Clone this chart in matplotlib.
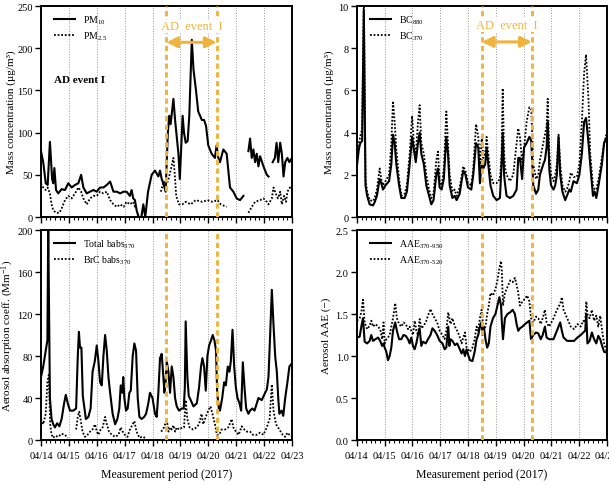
import numpy as np
import matplotlib
matplotlib.use('Agg')
import matplotlib.pyplot as plt
from matplotlib.ticker import MultipleLocator, FormatStrFormatter

nan = np.nan

# x axis: days since 04/14 00:00
day_labels = ['04/14', '04/15', '04/16', '04/17', '04/18', '04/19', '04/20', '04/21', '04/22', '04/23']
event_start = 4.5
event_end = 6.3

# PM10 / PM2.5 (ug/m3)
pm10_t = [0, 0.08, 0.17, 0.24, 0.32, 0.4, 0.44, 0.48, 0.54, 0.62,
          0.74, 0.86, 0.98, 1.1, 1.22, 1.34, 1.44, 1.52, 1.64, 1.76,
          1.88, 2.0, 2.12, 2.24, 2.36, 2.48, 2.6, 2.72, 2.84, 2.96,
          3.07, 3.19, 3.25, 3.31, 3.37, 3.43, 3.5, 3.6, 3.67, 3.74,
          3.84, 3.97, 4.09, 4.21, 4.27, 4.33, 4.39, 4.47, 4.55, 4.6,
          4.65, 4.75, 4.81, 4.87, 4.93, 4.98, 5.08, 5.13, 5.19, 5.26,
          5.32, 5.41, 5.47, 5.56, 5.64, 5.77, 5.85, 5.92, 6.0, 6.12,
          6.24, 6.3, 6.36, 6.42, 6.54, 6.66, 6.72, 6.78, 6.9, 7.02,
          7.14, 7.26, 7.35, 7.44, 7.5, 7.56, 7.62, 7.68, 7.74, 7.8,
          7.86, 7.98, 8.1, 8.16, 8.23, 8.31, 8.39, 8.45, 8.51, 8.58,
          8.64, 8.7, 8.76, 8.84, 8.91, 9.0]
pm10 = [78, 65, 40, 38, 89, 45, 40, 58, 32, 28,
        33, 32, 40, 35, 38, 40, 50, 35, 28, 30,
        32, 30, 35, 35, 38, 42, 30, 30, 28, 30,
        30, 25, 32, 22, 20, 8, 0, 0, 15, 0,
        30, 50, 55, 48, 55, 45, 40, 30, 100, 120,
        110, 140, 115, 95, 75, 45, 120, 100, 88, 90,
        120, 210, 175, 150, 125, 115, 115, 108, 85, 75,
        70, 85, 70, 65, 80, 75, 55, 35, 30, 22,
        20, 25, nan, 78, 93, 70, 80, 65, 75, 60,
        72, 60, 50, 48, nan, 65, 70, 88, 65, 88,
        75, 48, 65, 70, 65, 70]

pm25_t = [0, 0.08, 0.17, 0.24, 0.32, 0.38, 0.44, 0.54, 0.66, 0.74,
          0.86, 0.98, 1.1, 1.22, 1.34, 1.44, 1.52, 1.64, 1.76, 1.88,
          2.0, 2.12, 2.24, 2.36, 2.48, 2.6, 2.72, 2.84, 2.96, 3.07,
          3.19, 3.31, 3.37, 3.43, 3.46, 4.3, 4.4, 4.47, 4.55, 4.65,
          4.75, 4.8, 4.85, 4.95, 5.07, 5.19, 5.37, 5.55, 5.79, 5.97,
          6.15, 6.33, 6.45, 6.66, 6.7, 7.44, 7.56, 7.68, 7.86, 7.98,
          8.1, 8.16, 8.28, 8.34, 8.42, 8.5, 8.58, 8.64, 8.72, 8.79,
          8.84, 8.93, 9.0]
pm25 = [40, 35, 32, 35, 28, 15, 8, 5, 5, 10,
        20, 25, 22, 28, 35, 30, 22, 15, 22, 25,
        25, 30, 28, 30, 20, 15, 12, 15, 12, 18,
        15, 18, 12, 10, nan, 30, 42, 40, 42, 55,
        70, 50, 25, 15, 15, 18, 15, 20, 18, 20,
        18, 20, 15, 12, nan, 5, 12, 18, 20, 22,
        18, 15, 22, 35, 28, 22, 30, 15, 25, 18,
        30, 35, 33]

# BC (ug/m3)
bc_t = [0, 0.07, 0.12, 0.19, 0.25, 0.31, 0.37, 0.46, 0.58, 0.64,
        0.72, 0.82, 0.88, 0.94, 1.03, 1.16, 1.24, 1.3, 1.36, 1.42,
        1.52, 1.6, 1.72, 1.8, 1.9, 1.99, 2.05, 2.12, 2.2, 2.26,
        2.32, 2.41, 2.5, 2.6, 2.68, 2.76, 2.86, 2.92, 2.98, 3.05,
        3.13, 3.22, 3.28, 3.34, 3.44, 3.52, 3.59, 3.7, 3.83, 3.91,
        4.0, 4.12, 4.19, 4.29, 4.37, 4.43, 4.5, 4.55, 4.62, 4.67,
        4.73, 4.81, 4.91, 5.03, 5.15, 5.21, 5.25, 5.3, 5.34, 5.39,
        5.51, 5.63, 5.75, 5.81, 5.87, 5.95, 6.02, 6.11, 6.21, 6.28,
        6.35, 6.45, 6.53, 6.59, 6.71, 6.77, 6.83, 6.87, 6.93, 6.99,
        7.08, 7.14, 7.2, 7.26, 7.32, 7.4, 7.5, 7.56, 7.65, 7.7,
        7.8, 7.92, 8.01, 8.1, 8.18, 8.25, 8.34, 8.4, 8.5, 8.56,
        8.62, 8.7, 8.82, 8.9, 9.0]
bc880 = [2.4, 3.2, 3.5, 3.6, 9.8, 1.5, 1.0, 0.6, 0.55, 0.7,
         1.0, 1.8, 1.6, 1.3, 1.5, 1.7, 2.5, 3.9, 3.5, 2.5,
         1.5, 0.9, 0.9, 1.2, 2.5, 3.8, 3.2, 2.6, 3.5, 4.0,
         3.0, 2.5, 1.5, 1.0, 0.6, 0.8, 2.0, 2.3, 1.4, 1.3,
         1.8, 3.8, 3.0, 1.5, 0.9, 1.0, 0.8, 1.1, 2.2, 2.0,
         1.4, 1.3, 2.0, 3.5, 3.3, 1.6, 2.7, 2.3, 2.5, 3.3,
         2.5, 1.5, 1.0, 0.8, 0.9, 2.5, 4.0, 2.0, 1.5, 1.0,
         0.9, 1.0, 1.3, 2.8, 2.8, 1.8, 3.3, 3.5, 3.8, 3.6,
         1.5, 1.1, 1.3, 2.0, 2.5, 2.7, 3.3, 4.5, 2.2, 1.5,
         1.3, 1.5, 2.0, 3.8, 2.0, 1.2, 0.8, 1.0, 1.3, 1.2,
         1.7, 1.6, 2.0, 3.0, 4.5, 4.7, 3.5, 2.5, 1.0, 1.2,
         0.9, 1.5, 2.5, 3.5, 3.8]
bc370 = [3.0, 3.5, 3.8, 4.2, 10.5, 1.8, 1.2, 0.8, 0.75, 0.9,
         1.3, 2.3, 1.8, 1.5, 1.7, 2.0, 3.5, 5.5, 4.5, 3.2,
         1.8, 1.0, 1.1, 1.5, 3.0, 4.8, 3.5, 2.9, 4.5, 5.3,
         3.5, 3.0, 2.0, 1.3, 0.9, 1.1, 2.7, 3.1, 1.7, 1.5,
         2.3, 5.0, 3.5, 2.0, 1.2, 1.3, 1.0, 1.4, 2.4, 2.2,
         1.6, 1.5, 2.3, 4.4, 3.8, 2.5, 3.8, 2.8, 3.0, 3.8,
         3.0, 2.0, 1.6, 1.6, 1.8, 3.0, 6.1, 3.0, 2.3, 2.0,
         1.7, 2.0, 3.5, 4.2, 3.8, 2.6, 3.3, 4.5, 5.2, 5.1,
         2.5, 1.8, 2.0, 2.7, 3.5, 3.9, 4.3, 5.6, 3.0, 2.0,
         1.7, 2.0, 2.5, 3.9, 2.5, 1.5, 1.2, 1.3, 1.7, 2.1,
         1.9, 1.9, 2.5, 4.5, 6.8, 7.7, 5.5, 3.0, 1.5, 1.3,
         1.3, 1.8, 2.8, 3.5, 4.0]

# absorption coefficient at 370 nm (Mm-1)
babs_t = [0, 0.08, 0.17, 0.23, 0.26, 0.32, 0.38, 0.44, 0.5, 0.58,
          0.66, 0.74, 0.83, 0.89, 0.96, 1.04, 1.16, 1.26, 1.32, 1.36,
          1.4, 1.45, 1.5, 1.56, 1.61, 1.7, 1.78, 1.85, 1.93, 2.0,
          2.06, 2.12, 2.18, 2.24, 2.3, 2.36, 2.42, 2.48, 2.57, 2.66,
          2.74, 2.81, 2.86, 2.92, 2.95, 2.99, 3.05, 3.11, 3.17, 3.22,
          3.29, 3.35, 3.41, 3.47, 3.53, 3.61, 3.7, 3.77, 3.85, 3.91,
          4.0, 4.09, 4.15, 4.21, 4.27, 4.33, 4.39, 4.43, 4.47, 4.51,
          4.57, 4.63, 4.69, 4.75, 4.81, 4.87, 4.95, 5.05, 5.12, 5.16,
          5.19, 5.25, 5.3, 5.37, 5.47, 5.59, 5.67, 5.74, 5.79, 5.85,
          5.91, 5.97, 6.03, 6.1, 6.16, 6.22, 6.28, 6.32, 6.38, 6.42,
          6.5, 6.57, 6.63, 6.7, 6.76, 6.81, 6.87, 6.93, 6.99, 7.05,
          7.12, 7.18, 7.24, 7.3, 7.36, 7.44, 7.5, 7.58, 7.66, 7.74,
          7.8, 7.92, 8.04, 8.1, 8.16, 8.22, 8.28, 8.34, 8.4, 8.46,
          8.51, 8.55, 8.63, 8.69, 8.76, 8.84, 8.91, 9.0]
babs_total = [60, 70, 85, 95, 205, 40, 20, 15, 12, 16,
              13, 20, 35, 43, 35, 28, 28, 30, 80, 103,
              88, 88, 42, 30, 20, 22, 30, 65, 75, 90,
              75, 55, 52, 80, 100, 85, 60, 45, 25, 15,
              20, 30, 52, 45, 60, 40, 28, 30, 45, 47,
              80, 92, 85, 40, 22, 20, 22, 25, 35, 45,
              40, 25, 22, 45, 78, 82, 60, 45, 55, 75,
              65, 45, 70, 60, 40, 32, 28, 30, 30, 50,
              113, 60, 42, 38, 32, 35, 50, 70, 78, 70,
              47, 80, 90, 95, 100, 95, 85, 45, 30, 28,
              40, 55, 52, 70, 65, 75, 105, 70, 50, 40,
              35, 28, 74, 50, 30, 25, 28, 30, 28, 35,
              40, 38, 45, 48, 60, 100, 143, 110, 80, 65,
              40, 25, 28, 23, 40, 55, 70, 73]

brc_t = [0, 0.08, 0.17, 0.23, 0.28, 0.33, 0.38, 0.44, 0.5, 0.62,
         0.74, 0.86, 0.96, 1.0, 1.26, 1.32, 1.37, 1.43, 1.49, 1.58,
         1.67, 1.76, 1.85, 1.94, 2.0, 2.06, 2.14, 2.21, 2.3, 2.36,
         2.44, 2.54, 2.66, 2.78, 2.86, 2.93, 3.01, 3.1, 3.19, 3.29,
         3.35, 3.41, 3.47, 3.55, 3.61, 3.67, 3.73, 3.76, 4.31, 4.37,
         4.41, 4.45, 4.51, 4.57, 4.63, 4.69, 4.75, 4.81, 4.87, 4.95,
         5.07, 5.13, 5.19, 5.25, 5.33, 5.45, 5.58, 5.67, 5.76, 5.82,
         5.91, 6.0, 6.08, 6.15, 6.24, 6.31, 6.39, 6.48, 6.6, 6.72,
         6.84, 6.9, 6.99, 7.09, 7.2, 7.29, 7.38, 7.5, 7.6, 7.74,
         7.86, 7.98, 8.1, 8.2, 8.28, 8.34, 8.43, 8.55, 8.67, 8.76,
         8.84, 8.91, 9.0]
babs_brc = [20, 15, 25, 55, 62, 15, 5, 2, 4, 3,
            6, 5, 2, nan, 10, 22, 27, 18, 8, 3,
            5, 8, 10, 15, 8, 5, 10, 12, 22, 15,
            8, 5, 3, 5, 12, 8, 5, 3, 10, 15,
            18, 10, 5, 2, 3, 3, 2, nan, 8, 10,
            12, 15, 20, 8, 12, 10, 14, 8, 12, 10,
            12, 12, 38, 20, 12, 10, 12, 15, 25, 15,
            22, 28, 32, 25, 15, 5, 5, 10, 10, 12,
            20, 12, 8, 5, 13, 10, 8, 8, 5, 5,
            7, 5, 12, 20, 53, 28, 15, 10, 5, 3,
            7, 5, 3]

# absorption Angstrom exponent
aae_t = [0, 0.1, 0.16, 0.22, 0.28, 0.37, 0.46, 0.52, 0.58, 0.67,
         0.76, 0.84, 0.91, 0.96, 1.0, 1.06, 1.12, 1.18, 1.24, 1.3,
         1.38, 1.44, 1.52, 1.6, 1.68, 1.76, 1.84, 1.9, 1.96, 2.02,
         2.08, 2.14, 2.2, 2.26, 2.32, 2.38, 2.48, 2.56, 2.65, 2.72,
         2.8, 2.89, 2.98, 3.08, 3.16, 3.22, 3.29, 3.33, 3.37, 3.44,
         3.53, 3.61, 3.68, 3.77, 3.83, 3.89, 3.95, 4.0, 4.07, 4.16,
         4.24, 4.31, 4.37, 4.43, 4.49, 4.52, 4.57, 4.63, 4.69, 4.75,
         4.81, 4.9, 4.99, 5.06, 5.13, 5.19, 5.22, 5.26, 5.33, 5.42,
         5.52, 5.61, 5.69, 5.75, 5.81, 5.87, 5.96, 6.05, 6.13, 6.21,
         6.27, 6.35, 6.45, 6.53, 6.62, 6.69, 6.77, 6.83, 6.92, 7.08,
         7.2, 7.32, 7.38, 7.44, 7.57, 7.7, 7.82, 7.94, 8.06, 8.15,
         8.22, 8.26, 8.3, 8.38, 8.46, 8.54, 8.62, 8.69, 8.76, 8.83,
         8.9, 9.0]
aae_950 = [1.22, 1.23, 1.35, 1.45, 1.17, 1.15, 1.18, 1.25, 1.18, 1.2,
           1.22, 1.18, 1.12, 1.15, 1.1, 1.05, 0.95, 1.0, 1.1, 1.3,
           1.4, 1.3, 1.2, 1.2, 1.25, 1.24, 1.2, 1.15, 1.22, 1.12,
           1.08, 1.15, 1.25, 1.33, 1.12, 1.17, 1.15, 1.2, 1.25, 1.33,
           1.3, 1.25, 1.18, 1.15, 1.08, 1.1, 1.35, 1.12, 1.2, 1.18,
           1.13, 1.15, 1.1, 1.03, 1.08, 1.0, 1.08, 1.02, 0.95, 0.94,
           1.05, 1.2, 1.25, 1.35, 1.4, 1.25, 1.35, 1.2, 1.1, 1.15,
           1.35, 1.45, 1.5, 1.6, 1.7, 1.6, 1.4, 1.2, 1.45, 1.5,
           1.52, 1.55, 1.5, 1.38, 1.3, 1.33, 1.35, 1.38, 1.4, 1.42,
           1.2, 1.25, 1.28, 1.27, 1.2, 1.25, 1.35, 1.22, 1.2, 1.2,
           1.3, 1.4, 1.3, 1.22, 1.18, 1.18, 1.18, 1.22, 1.25, 1.28,
           1.3, 1.5, 1.15, 1.18, 1.28, 1.2, 1.15, 1.24, 1.2, 1.12,
           1.05, 1.04]
aae_520 = [1.42, 1.45, 1.52, 1.67, 1.4, 1.32, 1.36, 1.42, 1.35, 1.38,
           1.35, 1.32, 1.2, 1.4, 1.15, 1.2, 1.22, 1.25, 1.35, 1.45,
           1.63, 1.45, 1.38, 1.35, 1.4, 1.38, 1.32, 1.35, 1.3, 1.25,
           1.42, 1.3, 1.25, 1.44, 1.33, 1.35, 1.4, 1.48, 1.56, 1.5,
           1.45, 1.4, 1.3, 1.25, 1.2, 1.3, 1.52, 1.45, 1.38, 1.45,
           1.35, 1.3, 1.25, 1.15, 1.22, 1.28, 1.1, 1.08, 1.05, 1.1,
           1.2, 1.35, 1.3, 1.45, 1.55, 1.45, 1.3, 1.35, 1.5, 1.6,
           1.75, 1.72, 1.8, 1.9, 2.05, 2.13, 2.0, 1.6, 1.75, 1.82,
           1.9, 1.88, 1.93, 1.85, 1.75, 1.6, 1.65, 1.68, 1.72, 1.65,
           1.45, 1.4, 1.47, 1.45, 1.38, 1.45, 1.55, 1.4, 1.35, 1.45,
           1.55, 1.62, 1.7, 1.55, 1.45, 1.35, 1.32, 1.38, 1.35, 1.42,
           1.4, 1.65, 1.5, 1.45, 1.55, 1.42, 1.48, 1.35, 1.48, 1.3,
           1.15, 1.05]

orange = '#F0B43E'


def style_axes(ax, ymax, ystep, show_xlabels):
    ax.set_xlim(0, 9)
    ax.set_ylim(0, ymax)
    ax.xaxis.set_major_locator(MultipleLocator(1))
    ax.xaxis.set_minor_locator(MultipleLocator(1 / 6))
    ax.yaxis.set_major_locator(MultipleLocator(ystep))
    ax.tick_params(which='major', direction='out', length=4, width=1, labelsize=7.5, pad=2)
    ax.tick_params(which='minor', direction='out', length=2, width=0.8)
    ax.tick_params(axis='y', which='minor', left=False)
    ax.tick_params(axis='x', pad=4)
    ax.grid(axis='x', which='major', color='#999999', linestyle=':', linewidth=0.7)
    for s in ax.spines.values():
        s.set_linewidth(1.4)
    if show_xlabels:
        ax.set_xticks(np.arange(len(day_labels)))
        ax.set_xticklabels(day_labels)
        ax.set_xlabel('Measurement period (2017)', fontsize=8.5, labelpad=6)
    else:
        ax.tick_params(axis='x', labelbottom=False)
    # dust event boundaries
    for xv in (event_start, event_end):
        ax.axvline(xv, color=orange, linewidth=2.1, linestyle=(0, (1.8, 1.2)), zorder=4)


def event_arrow(ax, y_arrow, y_text):
    ax.annotate('', xy=(event_start, y_arrow), xytext=(event_end, y_arrow),
                arrowprops=dict(arrowstyle='<|-|>', color=orange, lw=2.2,
                                mutation_scale=16, shrinkA=0, shrinkB=0), zorder=5)
    ax.text((event_start + event_end) / 2, y_text, 'AD  event  I', color=orange,
            fontsize=9, ha='center', va='center', zorder=6,
            bbox=dict(facecolor='white', edgecolor='none', pad=0.5))


def main():
    plt.rcParams['font.family'] = ['Liberation Serif', 'DejaVu Serif']
    plt.rcParams['mathtext.fontset'] = 'custom'
    plt.rcParams['mathtext.rm'] = 'Liberation Serif'
    plt.rcParams['mathtext.it'] = 'Liberation Serif:italic'
    plt.rcParams['mathtext.bf'] = 'Liberation Serif:bold'

    fig = plt.figure(figsize=(6.09, 4.85), dpi=100)
    ax1 = fig.add_axes([0.0673, 0.5505, 0.412, 0.435])
    ax2 = fig.add_axes([0.586, 0.5505, 0.4105, 0.435])
    ax3 = fig.add_axes([0.0673, 0.0907, 0.412, 0.433])
    ax4 = fig.add_axes([0.586, 0.0907, 0.4105, 0.433])

    solid = dict(color='black', linewidth=1.5)
    dotted = dict(color='black', linewidth=1.3, linestyle=(0, (1, 1)))
    leg = dict(loc='upper left', frameon=False, fontsize=7, handlelength=2.2,
               borderaxespad=0.4, labelspacing=0.3, bbox_to_anchor=(0.02, 1.0))

    # a) PM
    ax1.plot(pm10_t, pm10, label=r'PM$\mathregular{_{10}}$', **solid)
    ax1.plot(pm25_t, pm25, label=r'PM$\mathregular{_{2.5}}$', **dotted)
    style_axes(ax1, 250, 50, False)
    ax1.set_ylabel('Mass concentration (µg/m³)', fontsize=8, labelpad=1)
    ax1.legend(**leg)
    event_arrow(ax1, 207, 226)
    ax1.text(0.47, 163, 'AD event I', fontsize=8, fontweight='bold', va='center')

    # b) BC
    ax2.plot(bc_t, bc880, label=r'BC$\mathregular{_{880}}$', **solid)
    ax2.plot(bc_t, bc370, label=r'BC$\mathregular{_{370}}$', **dotted)
    style_axes(ax2, 10, 2, False)
    ax2.set_ylabel('Mass concentration (µg/m³)', fontsize=8, labelpad=3)
    ax2.legend(**leg)
    event_arrow(ax2, 8.3, 9.1)

    # c) absorption
    ax3.plot(babs_t, babs_total, label=r'Total babs$\mathregular{_{370}}$', **solid)
    ax3.plot(brc_t, babs_brc, label=r'BrC babs$\mathregular{_{370}}$', **dotted)
    style_axes(ax3, 200, 40, True)
    ax3.set_ylabel('Aerosol absorption coeff. (Mm$\\mathregular{^{-1}}$)', fontsize=8, labelpad=1)
    ax3.legend(**leg)

    # d) AAE
    ax4.plot(aae_t, aae_950, label=r'AAE$\mathregular{_{370\text{-}950}}$', **solid)
    ax4.plot(aae_t, aae_520, label=r'AAE$\mathregular{_{370\text{-}520}}$', **dotted)
    style_axes(ax4, 2.5, 0.5, True)
    ax4.yaxis.set_major_formatter(FormatStrFormatter('%.1f'))
    ax4.set_ylabel('Aerosol AAE (−)', fontsize=8, labelpad=3)
    ax4.legend(**leg)

    fig.savefig('out.png', dpi=100)


if __name__ == '__main__':
    main()
